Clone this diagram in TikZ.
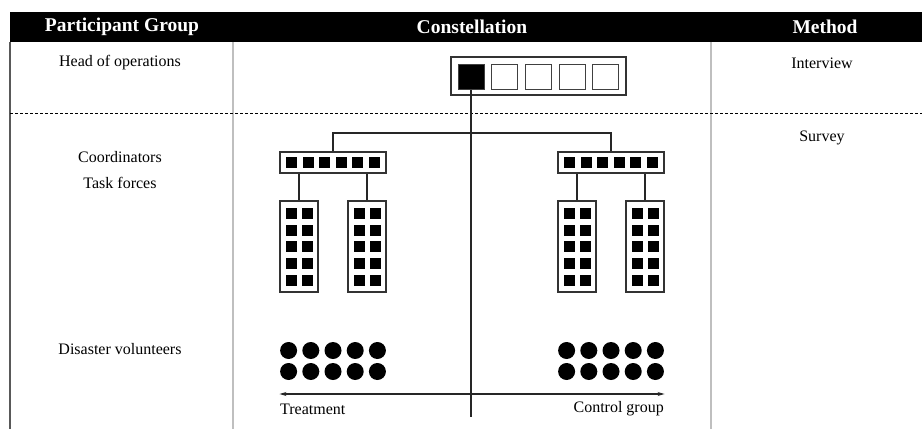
\documentclass[tikz,border=0pt]{standalone}
\usepackage{fontspec}
\setmainfont{Liberation Serif}
\usetikzlibrary{arrows.meta}

\begin{document}
\begin{tikzpicture}[x=1pt, y=-1pt]
\tikzstyle{boxframe}=[draw=black!80, line width=1.1pt, fill=white, inner sep=0pt]
\tikzstyle{blk}=[fill=black, minimum size=11pt, inner sep=0pt]
\tikzstyle{hsq}=[draw=black!75, line width=1pt, minimum width=26pt, minimum height=25pt, inner sep=0pt]
\tikzstyle{vol}=[circle, fill=black, minimum size=17pt, inner sep=0pt]
\tikzstyle{lbl}=[font=\fontsize{16}{18}\selectfont, inner sep=0pt]
\tikzstyle{headtxt}=[font=\fontsize{19.5}{22}\selectfont\bfseries, text=white, inner sep=0pt]
\tikzstyle{link}=[draw=black!85, line width=1.1pt]
\useasboundingbox (0,0) rectangle (922,429);

% table
\fill (10,12) rectangle (922,42);
\draw[black!65, line width=1.2pt] (10,42) -- (10,429);
\draw[black!25, line width=1.4pt] (233,42) -- (233,429);
\draw[black!25, line width=1.4pt] (711,42) -- (711,429);
\draw[dash pattern=on 3pt off 2pt, line width=0.9pt] (10,113) -- (922,113);

\node[headtxt] (hpg) at (122,27) {Participant Group};
\node[headtxt] (hcon) at (472,27) {Constellation};
\node[headtxt] (hmet) at (825,27) {Method};

\node[lbl] (head) at (120,63) {Head of operations};
\node[lbl] (coord) at (120,157) {Coordinators};
\node[lbl] (task) at (120,183) {Task forces};
\node[lbl] (volun) at (120,349) {Disaster volunteers};
\node[lbl] (intv) at (822,63) {Interview};
\node[lbl] (surv) at (822,138) {Survey};

% head of operations
\node[boxframe, minimum width=175pt, minimum height=38pt] (hbox) at (538.5,76) {};
\node[hsq, fill=black] (h0) at (471,76.5) {};
\foreach \i in {1,...,4}
  \node[hsq] (h\i) at (471+33.7*\i,76.5) {};

% coordinators and task forces
\foreach \g/\cx in {l/333, r/611} {
  \node[boxframe, minimum width=106pt, minimum height=21pt] (\g c) at (\cx,162.5) {};
  \foreach \i in {0,...,5}
    \node[blk] (\g c\i) at (\cx-41.25+16.5*\i,162.5) {};
  \node[boxframe, minimum width=38pt, minimum height=91pt] (\g t1) at (\cx-34,246.5) {};
  \node[boxframe, minimum width=38pt, minimum height=91pt] (\g t2) at (\cx+34,246.5) {};
  \foreach \dx [count=\k] in {-42,-26,26,42}
    \foreach \j in {0,...,4}
      \node[blk] (\g s\k\j) at (\cx+\dx,213.5+16.7*\j) {};
  \foreach \i in {0,...,4} {
    \node[vol] (\g v\i a) at (\cx-44.4+22.2*\i,350.5) {};
    \node[vol] (\g v\i b) at (\cx-44.4+22.2*\i,371.5) {};
  }
}

\coordinate (bot) at (472,417);
\coordinate (bar) at (472,133);
\coordinate (mid) at (472,394);

\draw[link] (h0.south) -- (h0.south |- bot);
\draw[link] (lc.north) |- (bar) -| (rc.north);
\draw[link] (lt1.north) -- (lt1.north |- lc.south);
\draw[link] (lt2.north) -- (lt2.north |- lc.south);
\draw[link] (rt1.north) -- (rt1.north |- rc.south);
\draw[link] (rt2.north) -- (rt2.north |- rc.south);

\draw[link, -{Stealth[length=7pt, width=4pt]}] (mid) -- (mid -| lc.west);
\draw[link, -{Stealth[length=7pt, width=4pt]}] (mid) -- (mid -| rc.east);

\node[lbl, anchor=west] (treat) at (280,409) {Treatment};
\node[lbl, anchor=east] (ctrl) at (664,409) {Control group};

\end{tikzpicture}
\end{document}
